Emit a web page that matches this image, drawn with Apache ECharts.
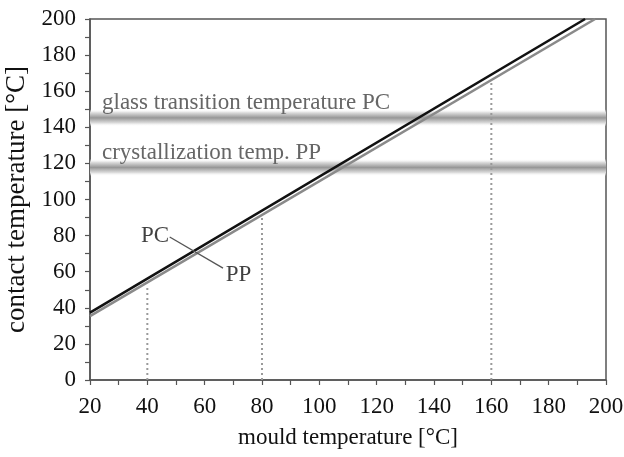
<!DOCTYPE html>
<html>
<head>
<meta charset="utf-8">
<script src="https://cdn.jsdelivr.net/npm/echarts@6/dist/echarts.min.js"></script>
<style>
  html, body { margin: 0; padding: 0; background: #fff; }
  #chart { width: 624px; height: 457px; }
</style>
</head>
<body>
<div id="chart"></div>
<script>
// Contact temperature vs. mould temperature for PC and PP
const pcLine = [[20, 37.3], [192.7, 200]];
const ppLine = [[20, 35.4], [196.2, 200]];

// Vertical dotted guides, from the x axis up to the PP curve
const guideX = [40, 80, 160];
const guideTop = [52, 90, 165];

// Horizontal transition bands [from, to] and their captions
const bandGlass = [140.5, 150];
const bandCryst = [113, 122.5];
const bandGlassText = 'glass transition temperature PC';
const bandCrystText = 'crystallization temp. PP';

// Curve captions and the leader line joining them
const pcLabelPos = [42.7, 79.8];
const ppLabelPos = [71.8, 58.2];
const leader = [[47.8, 79.2], [66.4, 62]];

const xTicks = { min: 20, max: 200, interval: 20 };
const yTicks = { min: 0, max: 200, interval: 20 };

const FONT = '"Liberation Serif", "Times New Roman", serif';
const AXIS_COLOR = '#555';

const bandFill = {
  type: 'linear', x: 0, y: 0, x2: 0, y2: 1,
  colorStops: [
    { offset: 0, color: 'rgba(255,255,255,0)' },
    { offset: 0.2, color: '#dcdcdc' },
    { offset: 0.5, color: '#979797' },
    { offset: 0.8, color: '#dcdcdc' },
    { offset: 1, color: 'rgba(255,255,255,0)' }
  ]
};

const bandLabel = {
  show: true,
  position: [12, -6],
  align: 'left',
  verticalAlign: 'middle',
  fontFamily: FONT,
  fontSize: 23,
  color: '#666'
};

const guideSeries = guideX.map((x, i) => ({
  type: 'line',
  data: [[x, 0], [x, guideTop[i]]],
  symbol: 'none',
  silent: true,
  z: 2,
  lineStyle: { color: '#9a9a9a', width: 2, type: [2, 3] }
}));

const chart = echarts.init(document.getElementById('chart'), null, { renderer: 'canvas' });

chart.setOption({
  animation: false,
  backgroundColor: '#fff',
  grid: {
    left: 90, right: 18, top: 19, bottom: 77,
    outerBoundsMode: 'none',
    containLabel: false,
    show: true, borderColor: AXIS_COLOR, borderWidth: 1.5,
    backgroundColor: 'transparent'
  },
  xAxis: {
    type: 'value',
    min: xTicks.min, max: xTicks.max, interval: xTicks.interval,
    name: 'mould temperature [°C]',
    nameLocation: 'middle',
    nameGap: 46,
    nameTextStyle: { fontFamily: FONT, fontSize: 23, color: '#111' },
    axisLine: { lineStyle: { color: AXIS_COLOR, width: 1.5 } },
    axisTick: { show: true, inside: false, length: 5, lineStyle: { color: AXIS_COLOR, width: 1.2 } },
    minorTick: { show: true, splitNumber: 2, length: 5, lineStyle: { color: AXIS_COLOR, width: 1.2 } },
    axisLabel: { fontFamily: FONT, fontSize: 23, color: '#111', margin: 15 },
    splitLine: { show: false }
  },
  yAxis: {
    type: 'value',
    min: yTicks.min, max: yTicks.max, interval: yTicks.interval,
    name: 'contact temperature [°C]',
    nameLocation: 'middle',
    nameGap: 57,
    nameTextStyle: { fontFamily: FONT, fontSize: 27, color: '#111' },
    axisLine: { lineStyle: { color: AXIS_COLOR, width: 1.5 } },
    axisTick: { show: true, inside: false, length: 5, lineStyle: { color: AXIS_COLOR, width: 1.2 } },
    minorTick: { show: true, splitNumber: 2, length: 5, lineStyle: { color: AXIS_COLOR, width: 1.2 } },
    axisLabel: { fontFamily: FONT, fontSize: 23, color: '#111', margin: 14 },
    splitLine: { show: false }
  },
  series: [
    {
      name: 'bands',
      type: 'line',
      data: [],
      silent: true,
      z: 1,
      markArea: {
        silent: true,
        itemStyle: { color: bandFill, borderWidth: 0 },
        label: bandLabel,
        data: [
          [{ yAxis: bandGlass[0], name: bandGlassText }, { yAxis: bandGlass[1] }],
          [{ yAxis: bandCryst[0], name: bandCrystText }, { yAxis: bandCryst[1] }]
        ]
      }
    },
    ...guideSeries,
    {
      name: 'PP',
      type: 'line',
      data: ppLine,
      symbol: 'none',
      z: 3,
      lineStyle: { color: '#8a8a8a', width: 2.6 }
    },
    {
      name: 'PC',
      type: 'line',
      data: pcLine,
      symbol: 'none',
      z: 4,
      lineStyle: { color: '#111', width: 2.6 }
    },
    {
      name: 'leader',
      type: 'line',
      data: leader,
      symbol: 'none',
      z: 5,
      lineStyle: { color: '#555', width: 1.3 }
    },
    {
      name: 'captions',
      type: 'scatter',
      symbolSize: 0,
      z: 6,
      data: [
        { value: pcLabelPos, name: 'PC' },
        { value: ppLabelPos, name: 'PP' }
      ],
      label: {
        show: true,
        position: 'inside',
        formatter: p => p.name,
        fontFamily: FONT,
        fontSize: 23,
        color: '#111'
      }
    }
  ]
});
</script>
</body>
</html>
